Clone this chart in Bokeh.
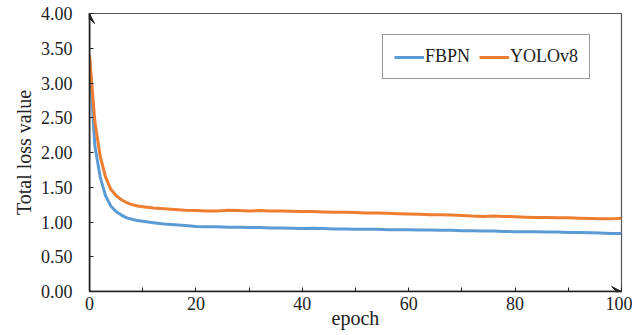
from bokeh.plotting import figure
from bokeh.models import (Range1d, FixedTicker, Arrow, VeeHead, Legend, LegendItem)
from bokeh.embed import file_html
from bokeh.resources import INLINE

epochs = [0, 1, 2, 3, 4, 5, 6, 7, 8, 9, 10, 12, 14, 16, 18, 20, 22, 24, 26, 28, 30,
          32, 34, 36, 38, 40, 42, 44, 46, 48, 50, 52, 54, 56, 58, 60, 62, 64, 66, 68, 70,
          72, 74, 76, 78, 80, 82, 84, 86, 88, 90, 92, 94, 96, 98, 100]

yolov8 = [3.40, 2.45, 1.95, 1.65, 1.47, 1.38, 1.32, 1.28, 1.25, 1.23, 1.22, 1.20, 1.19,
          1.18, 1.17, 1.165, 1.16, 1.16, 1.17, 1.165, 1.16, 1.165, 1.16, 1.16, 1.155,
          1.15, 1.15, 1.145, 1.14, 1.14, 1.135, 1.13, 1.13, 1.125, 1.12, 1.115, 1.11,
          1.105, 1.105, 1.10, 1.095, 1.085, 1.08, 1.085, 1.08, 1.075, 1.07, 1.065, 1.065,
          1.06, 1.06, 1.055, 1.05, 1.045, 1.045, 1.055]

fbpn = [3.35, 2.10, 1.65, 1.38, 1.23, 1.15, 1.10, 1.06, 1.04, 1.02, 1.01, 0.99, 0.97,
        0.96, 0.95, 0.935, 0.93, 0.93, 0.925, 0.925, 0.92, 0.92, 0.915, 0.915, 0.91,
        0.905, 0.91, 0.905, 0.90, 0.90, 0.895, 0.895, 0.895, 0.89, 0.89, 0.89, 0.885,
        0.885, 0.88, 0.88, 0.875, 0.875, 0.87, 0.87, 0.865, 0.86, 0.86, 0.86, 0.855,
        0.855, 0.85, 0.85, 0.845, 0.84, 0.835, 0.835]

x_ticks = [0, 10, 20, 30, 40, 50, 60, 70, 80, 90, 100]
x_tick_labels = {0: "0", 10: "", 20: "20", 30: "", 40: "40", 50: "", 60: "60", 70: "",
                 80: "80", 90: "", 100: "100"}
y_ticks = [0, 0.5, 1.0, 1.5, 2.0, 2.5, 3.0, 3.5, 4.0]
y_tick_labels = {0: "0.00", 0.5: "0.50", 1.0: "1.00", 1.5: "1.50", 2.0: "2.00",
                 2.5: "2.50", 3.0: "3.00", 3.5: "3.50", 4.0: "4.00"}

FONT = "Liberation Serif"
BLUE = "#5B9BD5"
ORANGE = "#ED7D31"

p = figure(width=632, height=335, output_backend="svg", toolbar_location=None,
           x_range=Range1d(0, 100), y_range=Range1d(0, 4.0))
p.min_border_left = 89
p.min_border_right = 11
p.min_border_top = 13
p.min_border_bottom = 44
p.xgrid.visible = False
p.ygrid.visible = False
p.outline_line_color = "#555555"
p.outline_line_width = 1.2
p.background_fill_color = "white"
p.border_fill_color = "white"

r1 = p.line(epochs, fbpn, line_color=BLUE, line_width=3)
r2 = p.line(epochs, yolov8, line_color=ORANGE, line_width=3)

for ax in (p.xaxis[0], p.yaxis[0]):
    ax.axis_line_color = "#222222"
    ax.axis_line_width = 1.5
    ax.major_tick_in = 4
    ax.major_tick_out = 0
    ax.major_tick_line_color = "#222222"
    ax.minor_tick_line_color = None
    ax.major_label_text_font = FONT
    ax.major_label_text_font_size = "18px"
    ax.major_label_text_color = "#222222"
    ax.axis_label_text_font = FONT
    ax.axis_label_text_font_style = "normal"
    ax.axis_label_text_color = "#222222"

p.xaxis.ticker = FixedTicker(ticks=x_ticks)
p.xaxis.major_label_overrides = x_tick_labels
p.xaxis.major_label_standoff = 5
p.xaxis.axis_label = "epoch"
p.xaxis.axis_label_text_font_size = "20px"
p.xaxis.axis_label_standoff = -6

p.yaxis.ticker = FixedTicker(ticks=y_ticks)
p.yaxis.major_label_overrides = y_tick_labels
p.yaxis.major_label_standoff = 17
p.yaxis.axis_label = "Total loss value"
p.yaxis.axis_label_text_font_size = "20px"
p.yaxis.axis_label_standoff = 3

p.add_layout(Arrow(end=VeeHead(size=10, fill_color="#222222", line_color="#222222"),
                   x_start=0, y_start=0, x_end=0, y_end=4.0,
                   line_color="#222222", line_width=1.5))
p.add_layout(Arrow(end=VeeHead(size=10, fill_color="#222222", line_color="#222222"),
                   x_start=0, y_start=0, x_end=100, y_end=0,
                   line_color="#222222", line_width=1.5))

legend = Legend(items=[LegendItem(label="FBPN", renderers=[r1]),
                       LegendItem(label="YOLOv8", renderers=[r2])],
                orientation="horizontal", location=(293, 212))
legend.label_text_font = FONT
legend.label_text_font_size = "18px"
legend.label_text_color = "#222222"
legend.glyph_width = 30
legend.glyph_height = 20
legend.label_standoff = 1
legend.spacing = 9
legend.padding = 11
legend.margin = 0
legend.border_line_color = "#333333"
legend.border_line_width = 1.5
p.add_layout(legend)

open("out.html", "w").write(file_html(p, INLINE))
